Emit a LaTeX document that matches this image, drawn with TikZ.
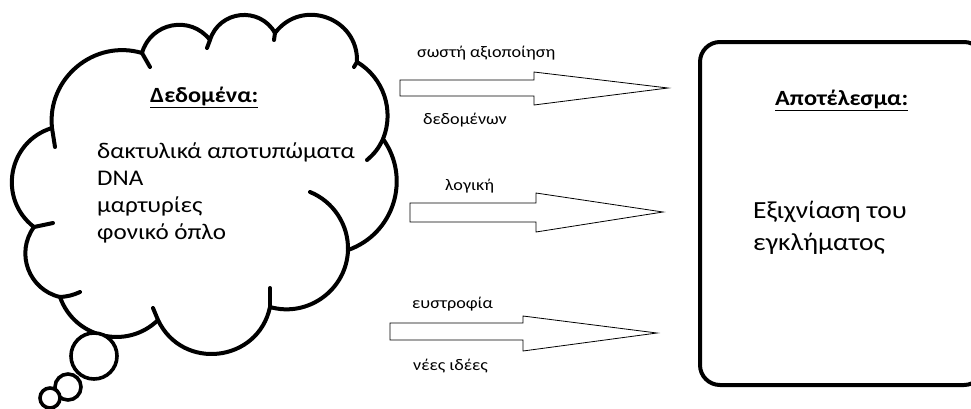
\documentclass[tikz,border=0pt]{standalone}
\usepackage{fontspec}
\setmainfont{Carlito}
\newfontfamily\diagfont[FakeStretch=1.12]{Carlito}
\begin{document}
\begin{tikzpicture}[x=1pt,y=1pt,
  cloudline/.style={line width=4pt, line join=round, line cap=round},
  bubble/.style={line width=3.6pt, fill=white},
  blockarrow/.style={draw, line width=0.8pt, fill=white, line join=miter},
  arrowlabel/.style={anchor=base west, inner sep=0pt, font=\diagfont\fontsize{16.2}{18}\selectfont},
  bodytext/.style={anchor=base west, inner sep=0pt, font=\diagfont\fontsize{22.4}{25}\selectfont},
  resulttext/.style={anchor=base west, inner sep=0pt, font=\diagfont\fontsize{24.6}{27}\selectfont},
  heading/.style={anchor=base west, inner sep=0pt, font=\diagfont\bfseries\fontsize{21.7}{24}\selectfont},
  resultbox/.style={line width=4pt, rounded corners=20pt}
]
\useasboundingbox (0,0) rectangle (971,-408);
\clip (0,0) rectangle (971,-408);

% cusps of the thought cloud, clockwise from the upper left
\coordinate (j1) at (142,-53);
\coordinate (j2) at (210,-40);
\coordinate (j3) at (275,-33);
\coordinate (j4) at (357,-62);
\coordinate (j5) at (383,-139);
\coordinate (j6) at (348,-250);
\coordinate (j7) at (270,-307);
\coordinate (j8) at (158,-320);
\coordinate (j9) at (60,-297);
\coordinate (j10) at (34,-227);
\coordinate (j11) at (52,-128);

% cloud outline: one circular bump between each pair of cusps
\draw[cloudline, fill=white]
  (j1) to[bend left=63.4, looseness=1.18] (j2)
       to[bend left=66.7, looseness=1.22] (j3)
       to[bend left=72.5, looseness=1.31] (j4)
       to[bend left=40.8, looseness=0.97] (j5)
       to[bend left=53.2, looseness=1.07] (j6)
       to[bend left=52, looseness=1.05] (j7)
       to[bend left=71.4, looseness=1.29] (j8)
       to[bend left=57.5, looseness=1.11] (j9)
       to[bend left=56.5, looseness=1.10] (j10)
       to[bend left=62.8, looseness=1.17] (j11)
       to[bend left=56.3, looseness=1.09] (j1) -- cycle;

% short inner strokes where the bumps meet
\draw[cloudline] (j1) -- (150,-67);
\draw[cloudline] (j2) -- (207,-48);
\draw[cloudline] (j3) -- (274,-40);
\draw[cloudline] (j4) -- (354,-67);
\draw[cloudline] (j5) to[bend left=12] (367,-160);
\draw[cloudline] (310,-192) to[bend left=34.6, looseness=0.93] (j6);
\draw[cloudline] (j7) -- (270,-288);
\draw[cloudline] (j8) -- (153,-308);
\draw[cloudline] (j9) to[bend right=10] (80,-292);
\draw[cloudline] (j10) -- (53,-223);
\draw[cloudline] (j11) -- (55,-147);

% thought bubbles
\draw[bubble] (94,-356) circle[radius=23];
\draw[bubble] (68,-387) circle[radius=13];
\draw[bubble] (50,-398) circle[radius=10];

% cloud text
\node[heading] (datatitle) at (150,-102) {\underline{Δεδομένα:}};
\node[bodytext] (data1) at (97,-158) {δακτυλικά αποτυπώματα};
\node[bodytext] (data2) at (97,-185) {DNA};
\node[bodytext] (data3) at (97,-212) {μαρτυρίες};
\node[bodytext] (data4) at (97,-239) {φονικό όπλο};

% block arrows
\draw[blockarrow] (400,-80) -- (534,-80) -- (534,-72) -- (668,-88)
  -- (534,-105) -- (534,-96) -- (400,-96) -- cycle;
\draw[blockarrow] (410,-203) -- (536,-203) -- (536,-193) -- (663,-212)
  -- (536,-232) -- (536,-222) -- (410,-222) -- cycle;
\draw[blockarrow] (390,-323) -- (523,-323) -- (523,-316) -- (657,-333)
  -- (523,-351) -- (523,-340) -- (390,-340) -- cycle;

\node[arrowlabel] (lab1) at (417,-57) {σωστή αξιοποίηση};
\node[arrowlabel] (lab2) at (423,-124) {δεδομένων};
\node[arrowlabel] (lab3) at (445,-190) {λογική};
\node[arrowlabel] (lab4) at (412,-308) {ευστροφία};
\node[arrowlabel] (lab5) at (413,-370) {νέες ιδέες};

% result box
\draw[resultbox] (700,-42) rectangle (984,-385);
\node[heading] (restitle) at (775,-105) {\underline{Αποτέλεσμα:}};
\node[resulttext] (res1) at (753,-218) {Εξιχνίαση του};
\node[resulttext] (res2) at (753,-250) {εγκλήματος};
\end{tikzpicture}
\end{document}
